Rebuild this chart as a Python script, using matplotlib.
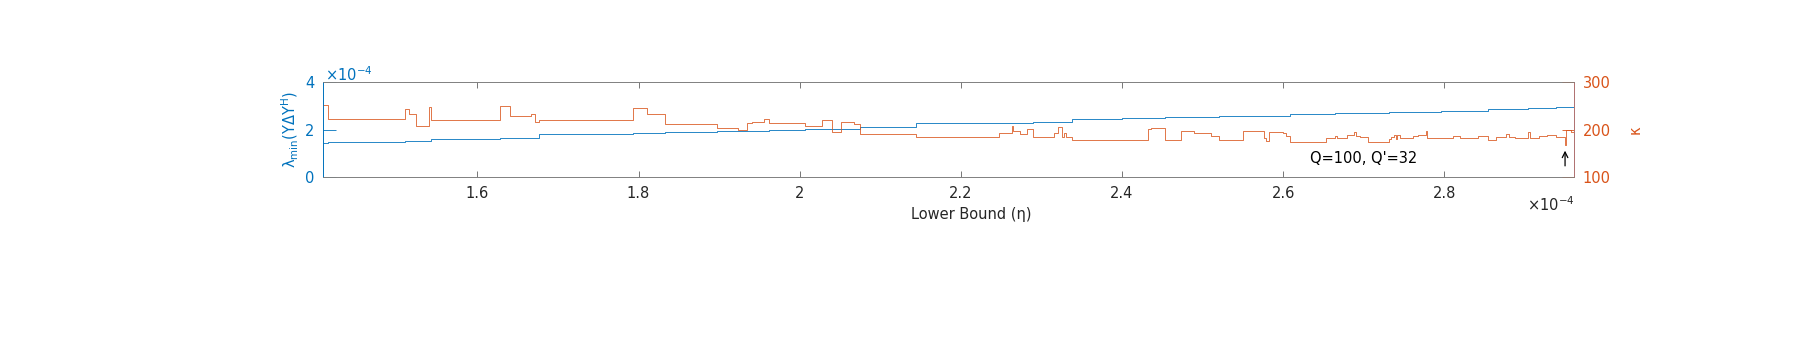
import numpy as np
import matplotlib
matplotlib.use("Agg")
import matplotlib.pyplot as plt

plt.rcParams['font.family'] = ['DejaVu Sans']

# eta values (x1e-4) and lambda_min (x1e-4), step changes
blue_x = [1.408, 1.414, 1.510, 1.543, 1.628, 1.677, 1.740, 1.793, 1.833, 1.897,
          1.962, 2.006, 2.075, 2.144, 2.200, 2.289, 2.338, 2.400, 2.454, 2.521,
          2.583, 2.608, 2.664, 2.732, 2.796, 2.854, 2.904, 2.939]
blue_y = [1.46, 1.50, 1.54, 1.63, 1.67, 1.83, 1.84, 1.86, 1.89, 1.95,
          2.00, 2.04, 2.13, 2.27, 2.29, 2.32, 2.44, 2.48, 2.52, 2.56,
          2.60, 2.65, 2.70, 2.75, 2.80, 2.86, 2.91, 2.95]

# eta values (x1e-4) and kappa, step changes
kappa_x = [1.408, 1.414, 1.510, 1.515, 1.524, 1.540, 1.543, 1.628, 1.641, 1.666,
           1.671, 1.677, 1.793, 1.811, 1.833, 1.897, 1.924, 1.935, 1.941, 1.956,
           1.962, 2.006, 2.028, 2.040, 2.051, 2.068, 2.075, 2.144, 2.248, 2.263,
           2.265, 2.273, 2.282, 2.289, 2.316, 2.321, 2.325, 2.328, 2.331, 2.338,
           2.432, 2.436, 2.454, 2.473, 2.490, 2.510, 2.521, 2.550, 2.576, 2.579,
           2.583, 2.600, 2.604, 2.608, 2.653, 2.664, 2.667, 2.679, 2.688, 2.690,
           2.695, 2.706, 2.732, 2.734, 2.738, 2.740, 2.742, 2.745, 2.761, 2.767,
           2.777, 2.779, 2.796, 2.811, 2.819, 2.842, 2.854, 2.864, 2.877, 2.881,
           2.888, 2.896, 2.904, 2.906, 2.918, 2.927, 2.939, 2.950, 2.951, 2.957]
kappa_y = [253, 223, 243, 233, 208, 247, 221, 250, 229, 233,
           217, 221, 246, 233, 213, 203, 200, 215, 217, 222,
           214, 207, 220, 195, 216, 213, 191, 185.5, 194, 208,
           198, 190.5, 201, 185.5, 193, 206.5, 184, 194, 185, 178.5,
           201.5, 203, 178.5, 198, 194, 187, 178.5, 198, 182, 177,
           195, 193, 187.5, 174, 183.5, 187.5, 183.5, 189, 196, 187.5,
           185.5, 174, 180.5, 185, 190, 181, 190, 183.5, 187.5, 190,
           198, 183.5, 182, 187.5, 182, 187.5, 178.5, 185.5, 191, 185.5,
           182, 183, 194.5, 183.5, 187.5, 190, 185.5, 168, 199.5, 194.5]

x_end = 2.9615
xticks = [1.6, 1.8, 2.0, 2.2, 2.4, 2.6, 2.8]
xticklabels = ['1.6', '1.8', '2', '2.2', '2.4', '2.6', '2.8']

blue = '#0072BD'
orange = '#D95319'
dark = '#262626'
fs = 10.5

fig = plt.figure(figsize=(18.05, 3.54), dpi=100)
ax = fig.add_axes([0.1788, 0.4992, 0.6934, 0.2684])
ax2 = ax.twinx()

ax.step(blue_x + [x_end], blue_y + [blue_y[-1]], where='post', color=blue, lw=0.7, alpha=0.85)
ax2.step(kappa_x + [x_end], kappa_y + [kappa_y[-1]], where='post', color=orange, lw=0.7, alpha=0.8)

ax.set_xlim(1.408, x_end)
ax.set_ylim(0, 4)
ax2.set_ylim(100, 300)

ax.set_xticks(xticks)
ax.set_xticklabels(xticklabels)
ax.set_yticks([0, 2, 4])
ax2.set_yticks([100, 200, 300])

ax.tick_params(axis='x', direction='in', length=4.5, width=0.6, color='#606060',
               labelcolor=dark, labelsize=fs, top=True, pad=6)
ax.tick_params(axis='y', direction='in', length=9, width=0.6, color=blue,
               labelcolor=blue, labelsize=fs, pad=6)
ax2.tick_params(axis='y', direction='in', length=9, width=0.6, color=orange,
                labelcolor=orange, labelsize=fs, pad=6)

for a in (ax, ax2):
    a.spines['top'].set_color('#808080')
    a.spines['bottom'].set_color('#808080')
    a.spines['left'].set_color(blue)
    a.spines['right'].set_color('#b07070')
    for s in a.spines.values():
        s.set_linewidth(0.6)

ax.set_ylabel('λ$_{\\rm min}$(YΔY$^{\\rm H}$)', color=blue, fontsize=fs, labelpad=3)
ax2.set_ylabel('κ', color=orange, fontsize=fs, labelpad=12)

fig.text(0.538, 0.395, 'Lower Bound (η)', color=dark, fontsize=fs, ha='center', va='center')
fig.text(0.8722, 0.422, r'$\times$10$^{-4}$', color=dark, fontsize=fs, ha='right', va='center')
fig.text(0.1800, 0.788, r'$\times$10$^{-4}$', color=blue, fontsize=fs, ha='left', va='center')

ax2.text(2.633, 139, "Q=100, Q'=32", color='black', fontsize=fs, ha='left', va='center')
ax2.annotate('', xy=(2.950, 156), xytext=(2.950, 124),
             arrowprops=dict(arrowstyle='->', color='black', lw=0.9,
                             shrinkA=0, shrinkB=0))

fig.savefig('out.png', dpi=100)
